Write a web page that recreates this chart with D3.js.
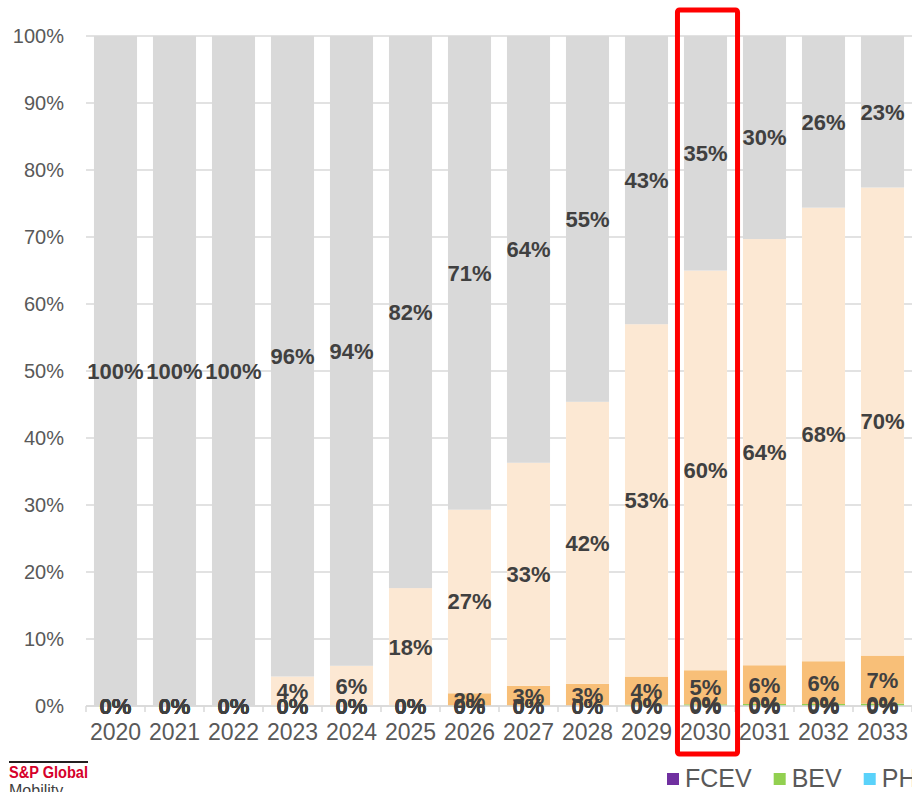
<!DOCTYPE html>
<html>
<head>
<meta charset="utf-8">
<script src="https://cdn.jsdelivr.net/npm/d3@7"></script>
<style>
  html, body { margin: 0; padding: 0; background: #fff; }
  svg { display: block; font-family: "Liberation Sans", Arial, sans-serif; }
</style>
</head>
<body>
<svg id="chart" width="912" height="792"></svg>
<script>
// Powertrain share of sales by year (percent of total)
const years = ["2020","2021","2022","2023","2024","2025","2026","2027","2028","2029","2030","2031","2032","2033"];
const seriesNames = ["FCEV", "BEV", "PHEV", "HEV", "MHEV", "ICE"];
const fcev = [0,0,0,0,0,0,0,0,0,0,0,0,0,0];
const bev  = [0,0,0,0,0,0,0,0,0,0.2,0.25,0.3,0.3,0.35];
const phev = [0,0,0,0,0,0,0,0,0,0,0,0,0,0];
const hev  = [0,0,0,0,0,0,1.9,3.0,3.3,4.2,5.1,5.8,6.4,7.2];
const mhev = [0,0,0,4.4,6.0,17.6,27.4,33.3,42.1,52.7,59.8,63.8,67.9,70.1];
const ice  = [100,100,100,95.6,94.0,82.4,70.7,63.7,54.6,43.1,35.1,30.4,25.7,22.7];
const yTicks = [0,0.1,0.2,0.3,0.4,0.5,0.6,0.7,0.8,0.9,1];
const highlightYear = "2030";

const colors = {
  FCEV: "#7030a0",
  BEV:  "#92d050",
  PHEV: "#5ad2fa",
  HEV:  "#f8bf78",
  MHEV: "#fce8d3",
  ICE:  "#d9d9d9"
};

const seriesValues = { FCEV: fcev, BEV: bev, PHEV: phev, HEV: hev, MHEV: mhev, ICE: ice };
const rows = years.map((y, i) => {
  const r = { year: y };
  seriesNames.forEach(s => r[s] = seriesValues[s][i]);
  return r;
});

const svg = d3.select("#chart");
const plot = { left: 86, right: 912, top: 36, bottom: 706 };

const x = d3.scaleBand()
  .domain(years)
  .range([plot.left, plot.right])
  .paddingInner(0.27)
  .paddingOuter(0.135);

const y = d3.scaleLinear().domain([0, 1]).range([plot.bottom, plot.top]);

const stack = d3.stack().keys(seriesNames).offset(d3.stackOffsetExpand);
const stacked = stack(rows);

// gridlines
svg.append("g")
  .selectAll("line")
  .data(yTicks)
  .join("line")
  .attr("x1", plot.left).attr("x2", plot.right)
  .attr("y1", d => y(d)).attr("y2", d => y(d))
  .attr("stroke", "#d9d9d9")
  .attr("stroke-width", 1.5);

// y axis labels
const yAxis = d3.axisLeft(y).tickValues(yTicks).tickFormat(d3.format(".0%")).tickSize(0).tickPadding(22);
svg.append("g")
  .attr("transform", `translate(${plot.left},0)`)
  .call(yAxis)
  .call(g => g.select(".domain").remove())
  .call(g => g.selectAll("text")
    .attr("font-size", 20)
    .attr("font-family", "Liberation Sans, Arial, sans-serif")
    .attr("fill", "#595959"));

// bars
svg.append("g")
  .selectAll("g")
  .data(stacked)
  .join("g")
  .attr("fill", d => colors[d.key])
  .selectAll("rect")
  .data(d => d)
  .join("rect")
  .attr("x", d => x(d.data.year))
  .attr("width", x.bandwidth())
  .attr("y", d => y(d[1]))
  .attr("height", d => y(d[0]) - y(d[1]));

// category axis with ticks at band boundaries
const axisG = svg.append("g");
axisG.append("line")
  .attr("x1", plot.left).attr("x2", plot.right)
  .attr("y1", plot.bottom).attr("y2", plot.bottom)
  .attr("stroke", "#d9d9d9").attr("stroke-width", 1.5);
const step = x.step();
const bounds = years.map((yr, i) => x(yr) - x.paddingInner() * step / 2).concat([plot.right]);
axisG.selectAll("line.tick")
  .data(bounds)
  .join("line")
  .attr("class", "tick")
  .attr("x1", d => d).attr("x2", d => d)
  .attr("y1", plot.bottom).attr("y2", plot.bottom + 6)
  .attr("stroke", "#d9d9d9").attr("stroke-width", 1.5);
axisG.selectAll("text")
  .data(years)
  .join("text")
  .attr("x", d => x(d) + x.bandwidth() / 2)
  .attr("y", 740)
  .attr("text-anchor", "middle")
  .attr("font-size", 23)
  .attr("fill", "#595959")
  .text(d => d);

// data labels, centred in each segment
const pct = v => Math.round(v) + "%";
svg.append("g")
  .selectAll("g")
  .data(stacked)
  .join("g")
  .selectAll("text")
  .data(d => d.map(p => ({ p, key: d.key })))
  .join("text")
  .attr("x", d => x(d.p.data.year) + x.bandwidth() / 2)
  .attr("y", d => y((d.p[0] + d.p[1]) / 2))
  .attr("dy", "0.36em")
  .attr("text-anchor", "middle")
  .attr("font-size", 22)
  .attr("font-weight", "bold")
  .attr("fill", "#404040")
  .text(d => pct(d.p.data[d.key]));

// highlight frame around the selected year
svg.append("rect")
  .attr("x", x(highlightYear) - 6.5)
  .attr("y", 10)
  .attr("width", x.bandwidth() + 17)
  .attr("height", 744)
  .attr("rx", 2)
  .attr("fill", "none")
  .attr("stroke", "#ff0000")
  .attr("stroke-width", 5);

// legend
const legend = svg.append("g").attr("transform", "translate(667,0)");
let lx = 0;
seriesNames.forEach(name => {
  const item = legend.append("g").attr("transform", `translate(${lx},0)`);
  item.append("rect")
    .attr("x", 0).attr("y", 773)
    .attr("width", 12).attr("height", 12)
    .attr("fill", colors[name]);
  const t = item.append("text")
    .attr("x", 18).attr("y", 787)
    .attr("font-size", 25)
    .attr("fill", "#595959")
    .text(name);
  lx += 18 + t.node().getComputedTextLength() + 22;
});

// brand mark
const brand = svg.append("g");
brand.append("line")
  .attr("x1", 9).attr("x2", 88)
  .attr("y1", 762).attr("y2", 762)
  .attr("stroke", "#231f20").attr("stroke-width", 2);
brand.append("text")
  .attr("x", 9).attr("y", 778)
  .attr("font-size", 16)
  .attr("font-weight", "bold")
  .attr("fill", "#d6002a")
  .attr("textLength", 79)
  .attr("lengthAdjust", "spacingAndGlyphs")
  .text("S&P Global");
brand.append("text")
  .attr("x", 9).attr("y", 796)
  .attr("font-size", 16)
  .attr("fill", "#404040")
  .text("Mobility");
</script>
</body>
</html>
